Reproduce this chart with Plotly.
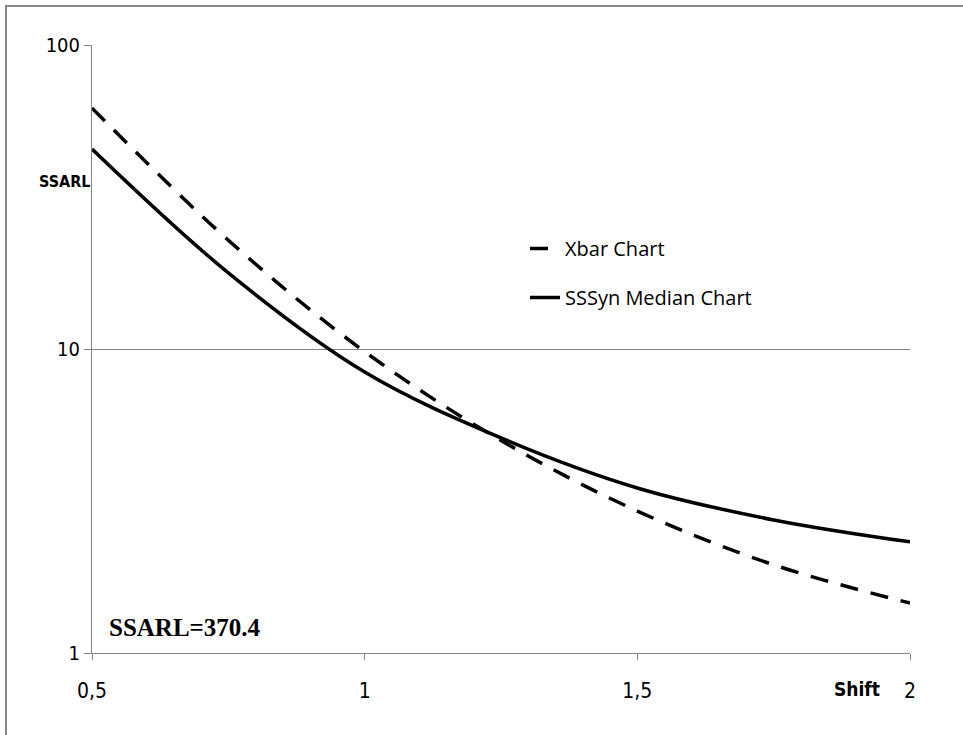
import plotly.graph_objects as go

# Data
shift = [0.5, 0.75, 1.0, 1.25, 1.5, 1.75, 2.0]
xbar_ssarl = [62.0, 22.8, 9.8, 5.0, 2.93, 1.95, 1.46]
sssyn_ssarl = [45.5, 17.8, 8.4, 5.1, 3.49, 2.74, 2.32]

x_tickvals = [0.5, 1.0, 1.5, 2.0]
x_ticktext = ["0,5", "1", "1,5", "2"]
y_tickvals = [1, 10, 100]
y_ticktext = ["1", "10", "100"]

W, H = 963, 735
L, R, T, B = 92, 53, 45, 82
pw, ph = W - L - R, H - T - B


def px_x(p):
    return (p - L) / pw


def px_y(p):
    return (H - B - p) / ph


NARROW = "Liberation Sans Narrow, Arial Narrow, DejaVu Sans Condensed, Open Sans"

fig = go.Figure()
fig.add_trace(go.Scatter(
    x=shift, y=xbar_ssarl, mode="lines", name="Xbar Chart",
    legendgroup="a",
    line=dict(color="black", width=3.5, dash="18px,13px", shape="spline"),
))
fig.add_trace(go.Scatter(
    x=shift, y=sssyn_ssarl, mode="lines", name="SSSyn Median Chart",
    legendgroup="b",
    line=dict(color="black", width=3.5, shape="spline"),
))

grey = "#868686"
fig.update_layout(
    width=W, height=H,
    margin=dict(l=L, r=R, t=T, b=B),
    paper_bgcolor="white", plot_bgcolor="white",
    font=dict(family=NARROW, color="black", size=18),
    showlegend=True,
    legend=dict(
        x=px_x(525), y=px_y(229), xanchor="left", yanchor="top",
        bgcolor="rgba(0,0,0,0)", font=dict(size=20, family="Open Sans"),
        traceorder="grouped", tracegroupgap=20,
    ),
    xaxis=dict(
        range=[0.5, 2.0], tickvals=x_tickvals, ticktext=x_ticktext,
        showgrid=False, zeroline=False, showline=True, linecolor=grey, linewidth=1,
        ticks="outside", ticklen=6, tickcolor=grey, ticklabelstandoff=13,
        tickfont=dict(size=21),
    ),
    yaxis=dict(
        type="log", range=[0, 2], tickvals=y_tickvals, ticktext=y_ticktext,
        showgrid=True, gridcolor=grey, gridwidth=1, zeroline=False,
        showline=True, linecolor=grey, linewidth=1,
        ticks="outside", ticklen=7, tickcolor=grey, tickfont=dict(size=20),
    ),
    shapes=[dict(
        type="rect", xref="paper", yref="paper", layer="below",
        x0=px_x(6), x1=px_x(1100), y0=px_y(900), y1=px_y(6),
        line=dict(color="#888888", width=2), fillcolor="rgba(0,0,0,0)",
    )],
    annotations=[
        dict(text="<b>SSARL</b>", xref="paper", yref="paper",
             x=px_x(64), y=px_y(182), xanchor="center", yanchor="middle",
             showarrow=False, font=dict(size=16, family=NARROW)),
        dict(text="<b>Shift</b>", xref="paper", yref="paper",
             x=px_x(857), y=px_y(689), xanchor="center", yanchor="middle",
             showarrow=False, font=dict(size=19, family=NARROW)),
        dict(text="<b>SSARL=370.4</b>", xref="paper", yref="paper",
             x=px_x(107), y=px_y(627), xanchor="left", yanchor="middle",
             showarrow=False, font=dict(size=25, family="Liberation Serif")),
    ],
)

fig.write_html(
    "out.html",
    config={"displayModeBar": False},
    post_script="document.body.style.margin='0';document.body.style.overflow='hidden';",
)
